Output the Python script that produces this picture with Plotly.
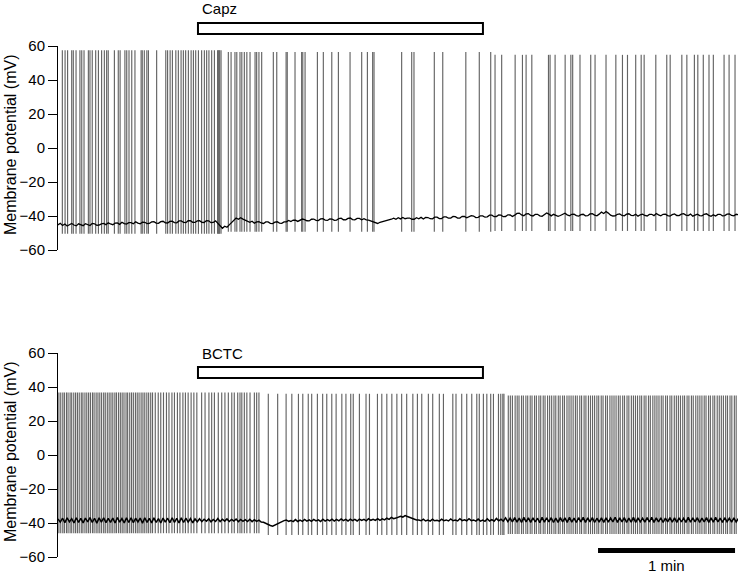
import plotly.graph_objects as go

# ---------------- data (time in s, potential in mV) ----------------
TOTAL_DURATION = 297.8
SCALE_BAR_S = 60.0
capz_window = [61.3, 186.1]
bctc_window = [61.3, 186.1]

top_spike_t = [1.9, 3.1, 4.2, 6.0, 6.7, 7.9, 9.6, 10.4, 11.4, 13.3, 14.0, 15.0, 16.5, 17.7,
               19.1, 20.3, 21.3, 22.0, 24.7, 26.4, 27.2, 29.3, 30.1, 31.1, 32.3, 33.7, 36.4,
               36.9, 37.8, 38.9, 39.6, 43.2, 47.2, 48.0, 49.1, 50.1, 51.6, 52.7, 53.9, 54.9,
               55.9, 57.1, 58.3, 59.3, 60.3, 61.5, 62.9, 64.1, 65.1, 66.1, 67.3, 68.5, 69.9,
               70.2, 70.5, 70.8, 71.4, 74.6, 75.8, 77.5, 78.3, 79.7, 80.5, 81.6, 82.7, 84.1,
               86.3, 87.0, 88.0, 89.2, 94.3, 95.8, 99.9, 100.4, 103.8, 106.7, 107.2, 108.2,
               113.6, 116.2, 119.9, 122.8, 127.9, 133.0, 135.5, 137.8, 138.4, 150.5, 154.9,
               155.9, 164.8, 168.5, 178.6, 184.5, 189.5, 191.4, 194.3, 200.2, 203.4, 205.0,
               207.5, 214.8, 215.5, 217.7, 222.1, 224.6, 225.4, 228.6, 233.3, 235.2, 240.0,
               244.3, 247.2, 249.4, 253.0, 255.4, 256.7, 261.8, 266.6, 268.1, 273.2, 275.4,
               278.7, 280.2, 282.6, 285.1, 287.0, 291.7, 293.9, 296.5]
top_epoch_edges = [0, 72, 190, 300]
top_epoch_peak = [57.5, 56.5, 54.8]
top_epoch_trough = [-50.5, -49.2, -48.8]

# membrane baseline sampled once per second (t = 0 ... 299 s)
top_base_v = [
    -45.2, -44.3, -45.6, -44.7, -45.9, -45.0, -44.4, -45.3, -45.8, -44.6, -45.0, -45.7, -44.5, -45.2, -45.6, -44.4, -44.6, -45.5, -45.3, -44.6,
    -44.4, -45.1, -44.0, -44.7, -45.1, -44.2, -44.1, -44.9, -43.7, -44.5, -44.8, -43.9, -43.9, -44.6, -43.4, -44.2, -44.6, -43.6, -43.7, -44.5,
    -44.4, -43.5, -43.4, -44.2, -44.3, -43.3, -43.1, -44.0, -44.1, -43.2, -43.0, -43.9, -44.0, -42.9, -42.9, -43.8, -43.9, -42.8, -42.8, -43.7,
    -43.8, -42.9, -42.8, -43.7, -43.8, -42.7, -42.8, -43.9, -43.8, -42.9, -44.5, -45.8, -47.2, -46.0, -46.6, -45.2, -44.0, -42.3, -41.2, -41.9,
    -41.0, -41.8, -42.4, -43.0, -43.7, -43.1, -44.2, -43.5, -43.3, -44.1, -44.4, -43.5, -43.5, -44.3, -44.5, -43.6, -43.4, -44.2, -44.3, -43.5,
    -43.4, -42.6, -43.3, -42.4, -42.5, -43.2, -42.6, -41.8, -42.1, -42.8, -42.9, -41.9, -41.8, -42.6, -42.7, -41.7, -41.6, -42.4, -42.6, -41.7,
    -41.8, -42.6, -42.4, -41.5, -41.3, -42.2, -42.3, -41.4, -41.2, -42.1, -42.3, -41.4, -41.4, -42.2, -41.6, -42.3, -42.4, -42.8, -43.3, -43.9,
    -44.4, -43.7, -43.4, -42.9, -42.8, -42.2, -41.9, -41.3, -41.9, -41.0, -41.7, -40.9, -41.6, -41.3, -41.2, -41.9, -41.9, -41.0, -41.6, -40.8,
    -41.8, -40.8, -40.9, -41.6, -41.7, -40.7, -40.7, -41.5, -41.5, -40.5, -40.5, -41.3, -41.2, -40.3, -40.4, -41.2, -41.2, -40.2, -40.3, -41.1,
    -40.6, -39.8, -40.0, -40.9, -40.8, -39.9, -39.9, -40.7, -40.5, -39.5, -39.5, -40.4, -40.3, -39.4, -39.5, -40.4, -40.3, -39.3, -39.4, -40.3,
    -39.5, -38.5, -38.3, -39.4, -39.8, -38.8, -38.6, -39.7, -40.0, -39.1, -39.0, -39.9, -40.2, -39.2, -38.2, -38.9, -39.9, -39.0, -39.6, -40.2,
    -39.7, -38.8, -38.4, -39.3, -39.9, -39.0, -38.9, -39.8, -40.1, -39.2, -39.0, -39.9, -39.8, -38.8, -38.6, -39.5, -39.9, -38.9, -37.7, -38.5,
    -37.4, -38.3, -39.5, -40.0, -39.9, -39.0, -38.8, -39.7, -39.9, -38.9, -38.7, -39.6, -39.8, -39.0, -40.1, -39.3, -38.9, -39.7, -40.0, -39.1,
    -39.0, -39.8, -38.5, -39.3, -39.9, -39.0, -38.9, -39.8, -40.1, -39.2, -38.8, -39.7, -39.8, -38.9, -38.6, -39.5, -39.7, -38.9, -40.1, -39.5,
    -38.9, -39.8, -39.9, -39.0, -38.7, -39.6, -40.2, -39.3, -40.0, -39.1, -39.0, -39.9, -39.8, -38.9, -38.8, -39.7, -39.9, -39.0, -39.2, -39.6]

bot_spike_t = [0.4, 1.2, 2.1, 2.8, 3.7, 4.4, 5.3, 6.0, 6.9, 7.7, 8.5, 9.3, 10.2, 10.9, 11.8,
               12.6, 13.4, 14.2, 15.1, 15.8, 16.7, 17.5, 18.3, 19.1, 20.0, 20.7, 21.6, 22.4,
               23.2, 24.0, 24.9, 25.6, 26.5, 27.3, 28.1, 28.9, 29.8, 30.5, 31.4, 32.2, 33.0,
               33.9, 34.7, 35.5, 36.4, 37.2, 38.0, 38.9, 39.7, 40.6, 41.4, 42.6, 43.9, 45.0,
               46.2, 47.5, 48.6, 49.9, 51.0, 52.3, 53.4, 54.7, 55.8, 57.0, 58.3, 59.5, 60.8,
               62.9, 64.4, 66.1, 67.3, 68.5, 70.2, 71.7, 73.1, 74.6, 76.1, 77.2, 78.7, 79.7,
               80.5, 81.6, 82.7, 84.1, 86.0, 87.0, 88.0, 92.1, 96.2, 99.9, 102.4, 105.3,
               107.2, 109.6, 111.1, 113.6, 115.9, 117.7, 119.9, 121.8, 124.3, 126.1, 128.2,
               129.3, 132.0, 134.9, 136.4, 139.9, 141.8, 144.0, 146.2, 148.4, 150.5, 152.7,
               155.4, 157.4, 159.3, 162.2, 164.1, 167.0, 168.8, 172.9, 174.3, 176.8, 179.0,
               181.2, 183.4, 184.5, 186.3, 187.8, 189.5, 190.7, 192.9, 193.9, 194.8, 195.3,
               197.2, 198.1, 199.0, 200.2, 201.1, 201.9, 203.0, 203.8, 204.9, 205.7, 206.8,
               207.6, 208.7, 209.5, 210.6, 211.4, 212.5, 213.3, 214.4, 215.3, 216.2, 217.2,
               218.0, 219.1, 219.9, 221.0, 221.8, 222.9, 223.8, 224.7, 225.6, 226.6, 227.4,
               228.5, 229.3, 230.4, 231.2, 232.3, 233.2, 234.1, 235.0, 236.0, 236.8, 237.9,
               238.7, 239.8, 240.6, 241.7, 242.6, 243.5, 244.4, 245.4, 246.2, 247.3, 248.1,
               249.2, 250.0, 251.1, 252.0, 252.9, 253.8, 254.8, 255.6, 256.7, 257.5, 258.6,
               259.4, 260.5, 261.4, 262.3, 263.2, 264.2, 265.0, 266.1, 266.9, 268.0, 268.8,
               269.9, 270.8, 271.7, 272.6, 273.6, 274.4, 275.5, 276.3, 277.4, 278.2, 279.3,
               280.2, 281.1, 282.0, 283.0, 283.8, 284.9, 285.7, 286.8, 287.6, 288.7, 289.6,
               290.5, 291.4, 292.4, 293.2, 294.3, 295.1, 296.2, 297.0]
bot_epoch_edges = [0, 90, 196, 300]
bot_epoch_peak = [36.8, 36.0, 35.0]
bot_epoch_trough = [-46.0, -47.0, -46.5]

bot_base_v = [
    -37.6, -39.5, -37.2, -39.8, -37.0, -39.3, -37.4, -40.0, -36.9, -39.6, -37.3, -39.9, -37.1, -39.4, -36.8, -39.7, -37.2, -40.1, -37.0, -39.5,
    -36.9, -39.8, -37.3, -39.6, -37.1, -40.0, -36.8, -39.5, -37.4, -39.9, -37.0, -39.7, -36.9, -39.8, -37.2, -39.4, -37.1, -40.1, -36.9, -39.6,
    -37.3, -39.9, -37.0, -39.7, -37.4, -40.0, -37.1, -39.5, -37.2, -39.8, -36.9, -39.6, -37.3, -40.0, -37.0, -39.7, -37.2, -39.5, -37.4, -39.9,
    -37.6, -39.3, -37.5, -39.2, -37.8, -39.0, -37.6, -39.3, -37.9, -39.1, -37.4, -39.2, -37.8, -38.9, -37.6, -39.1, -37.9, -38.8, -37.7, -39.2,
    -37.9, -39.0, -38.0, -39.1, -37.8, -39.2, -38.1, -39.0, -38.3, -39.4, -39.6, -40.3, -40.8, -41.5, -41.9, -41.2, -40.4, -39.7, -39.0, -38.6,
    -38.2, -39.0, -38.5, -39.2, -38.0, -39.1, -38.3, -39.0, -37.9, -38.9, -38.1, -39.0, -37.9, -38.8, -38.2, -39.1, -37.8, -38.9, -38.0, -38.8,
    -37.8, -38.9, -37.9, -38.7, -37.6, -38.6, -37.9, -38.8, -37.7, -38.6, -37.9, -38.8, -37.7, -38.5, -37.9, -38.7, -37.5, -38.4, -37.8, -38.5,
    -37.4, -38.4, -37.6, -38.2, -37.2, -37.9, -36.7, -37.5, -37.1, -36.6, -36.0, -36.5, -35.6, -36.2, -36.7, -37.3, -37.6, -38.2, -38.3, -38.7,
    -37.7, -38.8, -38.3, -38.9, -37.8, -38.7, -38.4, -38.9, -37.7, -38.6, -38.2, -38.8, -37.6, -38.7, -38.3, -38.8, -37.5, -38.6, -38.1, -38.7,
    -37.5, -38.6, -38.2, -38.9, -37.7, -38.9, -38.3, -39.0, -37.5, -38.8, -38.0, -38.9, -37.3, -38.7, -37.8, -38.9, -37.0, -39.2, -37.2, -39.4,
    -36.8, -39.5, -37.1, -39.7, -36.7, -39.3, -37.0, -39.6, -36.9, -39.4, -37.2, -39.8, -36.6, -39.5, -37.0, -39.3, -36.9, -39.7, -37.1, -39.6,
    -36.8, -39.4, -37.0, -39.6, -36.6, -39.5, -37.1, -39.7, -36.9, -39.3, -36.7, -39.6, -37.0, -39.4, -36.8, -39.7, -37.2, -39.5, -36.9, -39.6,
    -36.9, -39.5, -37.1, -39.3, -36.6, -39.6, -37.0, -39.4, -36.8, -39.7, -37.1, -39.5, -36.7, -39.6, -37.0, -39.3, -37.2, -39.5, -36.8, -39.4,
    -36.7, -39.6, -37.0, -39.4, -36.9, -39.7, -37.1, -39.3, -36.8, -39.5, -37.0, -39.6, -36.9, -39.4, -37.2, -39.6, -36.6, -39.5, -37.0, -39.3,
    -36.9, -39.7, -37.1, -39.4, -36.8, -39.6, -37.0, -39.5, -36.7, -39.4, -37.1, -39.6, -36.9, -39.3, -37.2, -39.5, -36.9, -39.4, -37.3, -39.2]

base_t = list(range(300))

y_ticks = [-60, -40, -20, 0, 20, 40, 60]
y_title = "Membrane potential (mV)"

# ---------------- figure ----------------
W, H = 742, 574
FONT = "Liberation Sans, Arial, sans-serif"


def epoch_value(t, edges, vals):
    for i in range(len(vals)):
        if edges[i] <= t < edges[i + 1]:
            return vals[i]
    return vals[-1]


def spike_xy(times, edges, peaks, troughs):
    xs, ys = [], []
    for t in times:
        xs += [t, t, None]
        ys += [epoch_value(t, edges, troughs), epoch_value(t, edges, peaks), None]
    return xs, ys


fig = go.Figure()

panels = [
    ("x", "y", top_spike_t, top_epoch_edges, top_epoch_peak, top_epoch_trough, top_base_v, 1.3),
    ("x2", "y2", bot_spike_t, bot_epoch_edges, bot_epoch_peak, bot_epoch_trough, bot_base_v, 1.5),
]
for xa, ya, st, ed, pk, tr, bv, bw in panels:
    sx, sy = spike_xy(st, ed, pk, tr)
    fig.add_trace(go.Scatter(x=sx, y=sy, mode="lines", xaxis=xa, yaxis=ya,
                             line=dict(color="rgb(100,100,100)", width=1.15),
                             hoverinfo="skip", connectgaps=False))
    fig.add_trace(go.Scatter(x=base_t, y=bv, mode="lines", xaxis=xa, yaxis=ya,
                             line=dict(color="black", width=bw), hoverinfo="skip"))


def py(px):
    return 1 - px / H


x_dom = [58 / W, 738 / W]
top_dom = [py(250), py(46)]
bot_dom = [py(557), py(353)]

yax = dict(range=[-60, 60], tickvals=y_ticks, showline=True, linecolor="black", linewidth=1,
           ticks="outside", ticklen=9, tickwidth=1, tickcolor="black", showgrid=False,
           zeroline=False, automargin=False,
           tickfont=dict(family=FONT, size=15, color="black"))
xax = dict(range=[0, TOTAL_DURATION], domain=x_dom, visible=False, showgrid=False,
           zeroline=False, automargin=False)

fig.update_layout(
    template="none",
    width=W, height=H, margin=dict(l=0, r=0, t=0, b=0, pad=0, autoexpand=False),
    paper_bgcolor="white", plot_bgcolor="white", showlegend=False,
    xaxis=dict(**xax, anchor="y"),
    xaxis2=dict(**xax, anchor="y2"),
    yaxis=dict(**yax, domain=top_dom, anchor="x"),
    yaxis2=dict(**yax, domain=bot_dom, anchor="x2"),
)

shapes = [
    dict(type="rect", xref="x", yref="paper", x0=capz_window[0], x1=capz_window[1],
         y0=py(34), y1=py(23), line=dict(color="black", width=2), fillcolor="white"),
    dict(type="rect", xref="x2", yref="paper", x0=bctc_window[0], x1=bctc_window[1],
         y0=py(378), y1=py(367), line=dict(color="black", width=2), fillcolor="white"),
    dict(type="rect", xref="x2", yref="paper", x0=TOTAL_DURATION - 1.3 - SCALE_BAR_S,
         x1=TOTAL_DURATION - 1.3, y0=py(553), y1=py(548),
         line=dict(color="black", width=0), fillcolor="black"),
]
fig.update_layout(shapes=shapes)

annots = [
    dict(text="Capz", xref="x", yref="paper", x=capz_window[0], y=py(9), xanchor="left",
         yanchor="middle", showarrow=False, xshift=2, font=dict(family=FONT, size=15, color="black")),
    dict(text="BCTC", xref="x2", yref="paper", x=bctc_window[0], y=py(353), xanchor="left",
         yanchor="middle", showarrow=False, xshift=2, font=dict(family=FONT, size=15, color="black")),
    dict(text="1 min", xref="x2", yref="paper", x=TOTAL_DURATION - 1.3 - SCALE_BAR_S / 2, y=py(565),
         xanchor="center", yanchor="middle", showarrow=False,
         font=dict(family=FONT, size=15, color="black")),
    dict(text=y_title, xref="paper", yref="paper", x=10 / W, y=py(145), textangle=-90,
         xanchor="center", yanchor="middle", showarrow=False,
         font=dict(family=FONT, size=16, color="black")),
    dict(text=y_title, xref="paper", yref="paper", x=10 / W, y=py(452), textangle=-90,
         xanchor="center", yanchor="middle", showarrow=False,
         font=dict(family=FONT, size=16, color="black")),
]
fig.update_layout(annotations=annots)

fig.write_html("out.html", config={"displayModeBar": False},
               post_script="document.body.style.margin='0px';document.body.style.overflow='hidden';")
